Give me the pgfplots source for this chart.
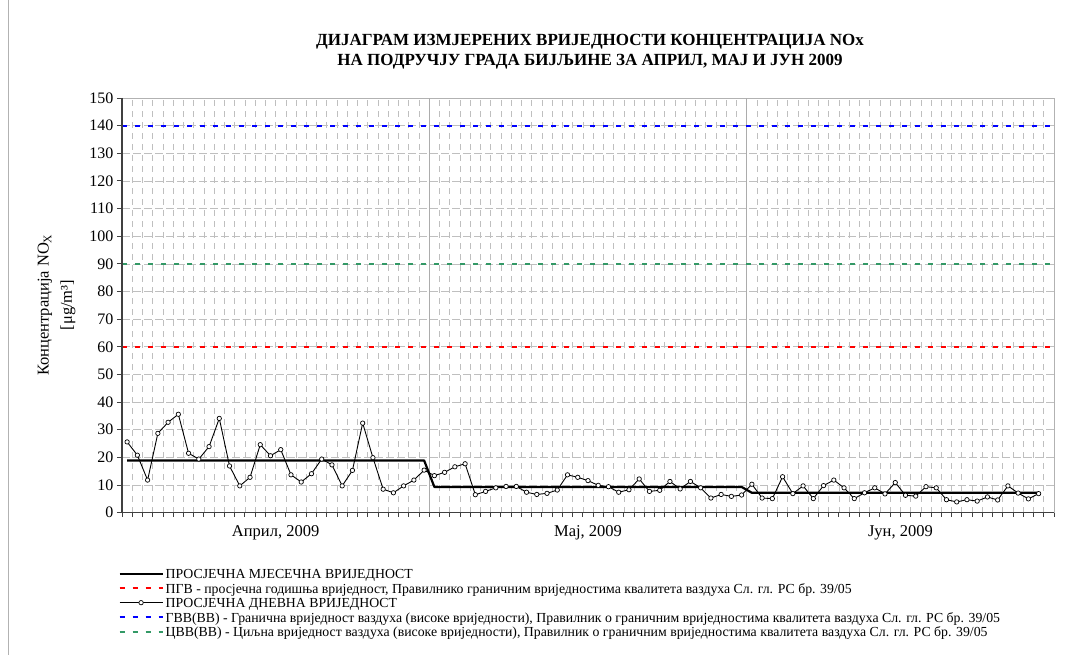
\documentclass[border=0pt]{standalone}
\usepackage{pgfplots}
\pgfplotsset{compat=1.18}
\usepackage{fontspec}
\setmainfont{Liberation Serif}
\definecolor{refgreen}{HTML}{339966}
\definecolor{axdark}{HTML}{404040}

\pgfplotstableread{
day val
1 25.6
2 20.8
3 11.8
4 28.7
5 32.7
6 35.6
7 21.5
8 19.4
9 23.9
10 34.1
11 16.9
12 9.7
13 12.8
14 24.6
15 20.6
16 22.8
17 13.7
18 11.1
19 14.1
20 19.4
21 17.3
22 9.7
23 15.3
24 32.4
25 19.9
26 8.5
27 7.2
28 9.7
29 11.8
30 15.4
31 13.4
32 14.6
33 16.6
34 17.7
35 6.5
36 7.7
37 9.0
38 9.5
39 9.5
40 7.4
41 6.6
42 7.0
43 8.2
44 13.7
45 12.8
46 11.6
47 9.9
48 9.4
49 7.4
50 8.3
51 12.2
52 7.7
53 8.1
54 11.3
55 8.6
56 11.3
57 9.0
58 5.3
59 6.6
60 5.9
61 6.4
62 10.3
63 5.3
64 5.1
65 13.0
66 6.9
67 9.7
68 5.1
69 9.8
70 11.8
71 9.0
72 5.1
73 7.2
74 9.0
75 6.8
76 10.9
77 6.3
78 6.0
79 9.4
80 9.0
81 4.7
82 3.9
83 4.7
84 4.2
85 5.7
86 4.6
87 9.7
88 7.1
89 5.0
90 6.9
}\daily

\pgfplotstableread{
day val
1 18.9
30 18.9
31 9.3
61 9.3
62 7.2
90 7.2
}\monthly

\begin{document}
\begin{tikzpicture}[x=1pt,y=1pt]
\useasboundingbox (0,0) rectangle (1065,655);
\draw[gray!60] (8,0) -- (8,655);
\node[font=\bfseries\fontsize{17}{20}\selectfont, align=center] at (590,603)
  {ДИЈАГРАМ ИЗМЈЕРЕНИХ ВРИЈЕДНОСТИ КОНЦЕНТРАЦИЈА NOx\\НА ПОДРУЧЈУ ГРАДА БИЈЉИНЕ ЗА АПРИЛ, МАЈ И ЈУН 2009};
\node[rotate=90, font=\fontsize{16.5}{16.5}\selectfont] at (45,350) {Концентрација NO\textsubscript{X}};
\node[rotate=90, font=\fontsize{16.5}{16.5}\selectfont] at (68,350) {[μg/m³]};
\begin{axis}[
  at={(122pt,142.3pt)}, anchor=south west,
  width=932pt, height=414.7pt, scale only axis,
  xmin=0.5, xmax=91.5, ymin=0, ymax=150,
  ytick distance=10,
  xtick={15.5,46,76.5},
  xticklabels={{Април, 2009},{Мај, 2009},{Јун, 2009}},
  major x tick style={draw=none},
  minor xtick={0.5,1.5,...,91.5},
  minor tick length=4pt,
  major tick length=5pt,
  tick align=outside,
  xtick pos=bottom, ytick pos=left,
  tick style={axdark, line width=0.9pt},
  xminorgrids=true, ymajorgrids=true,
  minor x grid style={gray!50, line width=0.7pt, dash pattern=on 6pt off 5pt},
  major y grid style={gray!50, line width=0.7pt, dash pattern=on 8pt off 3pt},
  extra x ticks={30.5,61.5},
  extra x tick labels={},
  extra x tick style={grid=major, major x grid style={solid, gray!65, line width=0.8pt}},
  axis line style={gray!60, line width=0.8pt},
  yticklabel style={font=\fontsize{16}{16}\selectfont},
  xticklabel style={font=\fontsize{16.5}{16.5}\selectfont, yshift=-4pt},
  /pgf/number format/assume math mode=true,
  legend style={at={(axis description cs:-0.004,-0.1345)}, anchor=north west,
    draw=none, fill=none, font=\fontsize{13.8}{14.5}\selectfont, row sep=1.5pt,
    inner sep=0pt, nodes={text height=10pt, text depth=3pt, inner ysep=0pt, inner xsep=2pt}},
  legend cell align=left,
  legend image code/.code={\draw[mark repeat=2,mark phase=2,#1] plot coordinates {(0pt,1.5pt)(21.5pt,1.5pt)(43pt,1.5pt)};},
  clip=false,
]
\addplot[black, line width=2.2pt, line join=round] table[x=day,y=val]{\monthly};
\addlegendentry{ПРОСЈЕЧНА МЈЕСЕЧНА ВРИЈЕДНОСТ}
\addplot[red, line width=2pt, dash pattern=on 5pt off 8pt] coordinates {(0.5,60)(91.5,60)};
\addlegendentry{ПГВ - просјечна годишња вриједност, Правилнико граничним вриједностима квалитета ваздуха Сл. гл. РС бр. 39/05}
\addplot[black, line width=0.9pt, mark=*, mark size=2.2pt, mark options={fill=white, line width=0.7pt}] table[x=day,y=val]{\daily};
\addlegendentry{ПРОСЈЕЧНА ДНЕВНА ВРИЈЕДНОСТ}
\addplot[blue, line width=2pt, dash pattern=on 5pt off 8pt] coordinates {(0.5,140)(91.5,140)};
\addlegendentry{ГВВ(ВВ) - Гранична вриједност ваздуха (високе вриједности), Правилник о граничним вриједностима квалитета ваздуха Сл. гл. РС бр. 39/05}
\addplot[refgreen, line width=2pt, dash pattern=on 5pt off 8pt] coordinates {(0.5,90)(91.5,90)};
\addlegendentry{ЦВВ(ВВ) - Циљна вриједност ваздуха (високе вриједности), Правилник о граничним вриједностима квалитета ваздуха Сл. гл. РС бр. 39/05}
\draw[axdark, line width=1.4pt] (rel axis cs:0,1) -- (rel axis cs:0,0) -- (rel axis cs:1,0);
\end{axis}
\end{tikzpicture}
\end{document}
